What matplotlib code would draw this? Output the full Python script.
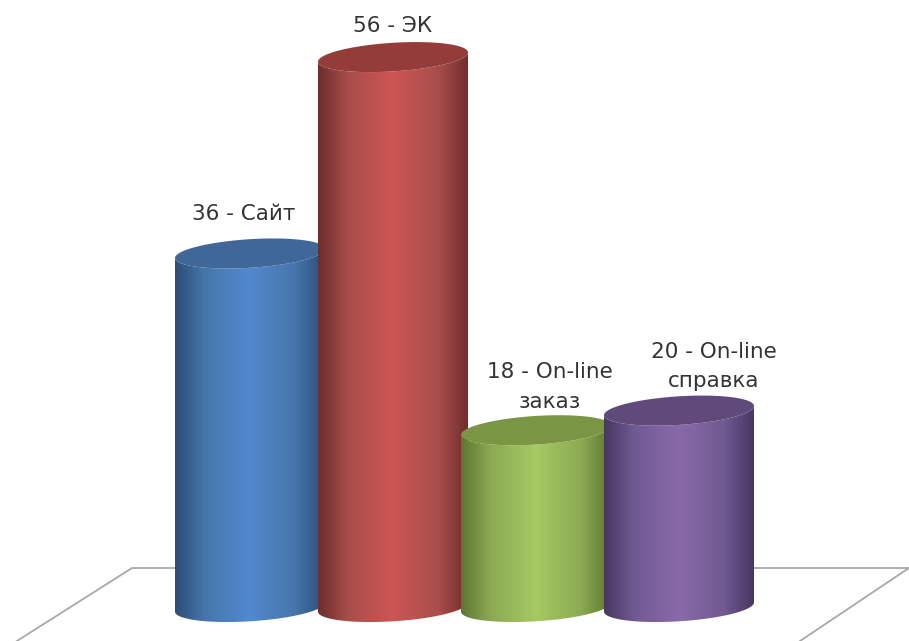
import numpy as np
import matplotlib
matplotlib.use('Agg')
import matplotlib.pyplot as plt
from matplotlib.colors import LinearSegmentedColormap
from matplotlib.patches import Polygon

plt.rcParams['font.family'] = ['DejaVu Sans']

values = [36, 56, 18, 20]
names = ['Сайт', 'ЭК', 'On-line\nзаказ', 'On-line\nсправка']

edge_colors = ['#2b4e78', '#6e2d2b', '#5c7830', '#483762']
mid_colors = ['#4676ab', '#a84e4b', '#8caa54', '#705a92']
light_colors = ['#5289cf', '#cc5653', '#a6c962', '#8a6aa9']
top_colors = ['#3f6797', '#943c3a', '#7a9544', '#604a7b']

# pixels per category step and per unit of value
px_x = 143
px_y = 9.82
bar_w = 75 / px_x
ell_h = 14.3 / px_y
ell_tilt = 4.6 / px_y

fig = plt.figure(figsize=(9.09, 6.41), dpi=100)
ax = fig.add_axes([0, 0, 1, 1])
xlim = (-250 / px_x, 659 / px_x)
ylim = (-34 / px_y, 607 / px_y)

# floor of the 3d box, behind the cylinders
floor_y = 39 / px_y
front_y = ylim[0]
ax.plot([-1.63, -0.825, xlim[1]], [front_y, floor_y, floor_y],
        color='#a8a8a8', lw=1.3, zorder=1)
ax.plot([xlim[1], 3.846], [floor_y, front_y], color='#a8a8a8', lw=1.3, zorder=1)

t = np.linspace(0, np.pi, 120)
for i, v in enumerate(values):
    cmap = LinearSegmentedColormap.from_list(
        'cyl', [(0, edge_colors[i]), (0.2, mid_colors[i]), (0.5, light_colors[i]),
                (0.8, mid_colors[i]), (1, edge_colors[i])])
    ex = i + bar_w * np.cos(t)
    # lower half of the tilted ellipse, right end to left end
    ey = ell_tilt * np.cos(t) - ell_h * np.sin(t)
    body = np.vstack([np.column_stack([ex, ey + v]),
                      np.column_stack([ex[::-1], ey[::-1]])])
    z = 2 + i
    im = ax.imshow(np.linspace(0, 1, 256)[None, :], cmap=cmap, aspect='auto',
                   extent=(i - bar_w, i + bar_w, -ell_h - 1, v + ell_h), zorder=z)
    clip = Polygon(body, closed=True, transform=ax.transData)
    im.set_clip_path(clip)

    a = np.linspace(0, 2 * np.pi, 200)
    top = np.column_stack([i + bar_w * np.cos(a),
                           v + ell_tilt * np.cos(a) + ell_h * np.sin(a)])
    ax.add_patch(Polygon(top, closed=True, fc=top_colors[i], ec='none', zorder=z))

# label offsets from the top of each cylinder, in points
label_dx = [-6, 0, 14, 35]
label_dy = [39, 31, 43, 44]
for i, v in enumerate(values):
    ax.annotate(f'{v} - {names[i]}', (i, v),
                xytext=(label_dx[i] * 0.72, label_dy[i] * 0.72),
                textcoords='offset points', ha='center', va='center',
                fontsize=15.5, color='#333333', linespacing=1.6, zorder=10)

ax.set_xlim(xlim)
ax.set_ylim(ylim)
ax.axis('off')
fig.savefig('out.png', dpi=100)
